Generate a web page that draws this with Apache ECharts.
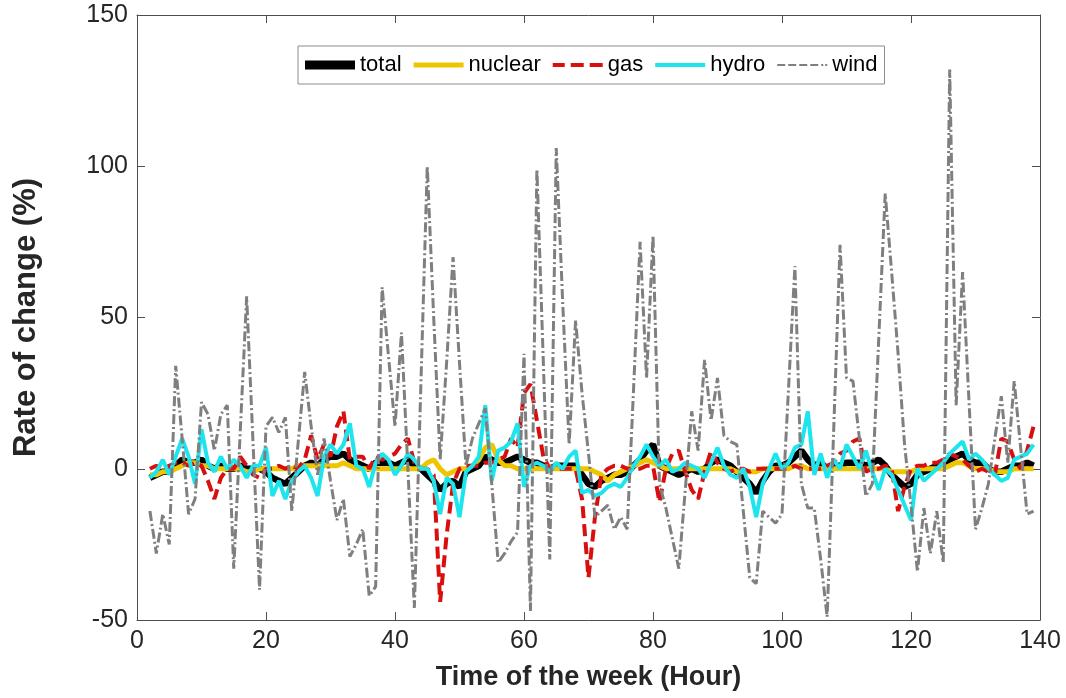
<!DOCTYPE html>
<html>
<head>
<meta charset="utf-8">
<script src="https://cdn.jsdelivr.net/npm/echarts@6/dist/echarts.min.js"></script>
<style>
html,body{margin:0;padding:0;background:#fff;}
#chart{width:1066px;height:698px;}
</style>
</head>
<body>
<div id="chart"></div>
<script>
var hours = [
 2,3,4,5,6,7,8,9,10,11,
 12,13,14,15,16,17,18,19,20,21,
 22,23,24,25,26,27,28,29,30,31,
 32,33,34,35,36,37,38,39,40,41,
 42,43,44,45,46,47,48,49,50,51,
 52,53,54,55,56,57,58,59,60,61,
 62,63,64,65,66,67,68,69,70,71,
 72,73,74,75,76,77,78,79,80,81,
 82,83,84,85,86,87,88,89,90,91,
 92,93,94,95,96,97,98,99,100,101,
 102,103,104,105,106,107,108,109,110,111,
 112,113,114,115,116,117,118,119,120,121,
 122,123,124,125,126,127,128,129,130,131,
 132,133,134,135,136,137,138,139
];
var total = [
 -3,-2,-1,-1,1,3,2,2,3,1,
 0,1,0,0,1,0,0,0,-1,-3,
 -4,-5,-3,-1,1,2,1,3,4,4,
 5,3,2,1,0,2,2,2,1,2,
 3,1,0,-2,-4,-7,-5,-4,-6,-1,
 0,1,4,3,2,2,3,4,3,2,
 2,1,0,1,1,1,1,-2,-5,-6,
 -4,-3,-2,-2,-1,1,3,6,8,1,
 0,-1,-2,-1,0,-1,0,2,3,2,
 1,-1,-3,-5,-8,-4,-1,1,1,2,
 4,6,3,1,2,0,1,1,2,2,
 2,1,2,3,1,-2,-4,-6,-5,-2,
 -1,0,1,2,3,4,5,3,2,2,
 0,-1,-1,0,1,1,2,1
];
var nuclear = [
 -2,-2,-1,-1,0,1,2,2,1,1,
 0,0,0,0,0,-1,-1,0,0,0,
 0,0,0,1,1,1,1,1,1,1,
 2,1,0,0,0,0,0,0,0,0,
 0,0,0,2,3,0,-2,-1,0,0,
 1,3,7,8,3,1,1,0,0,0,
 0,0,0,0,0,0,0,0,0,-1,
 -2,-4,-2,-1,0,1,2,3,2,1,
 0,0,0,0,0,0,0,0,0,0,
 0,-1,-1,-1,-1,0,0,0,0,0,
 1,1,0,0,0,0,0,0,0,0,
 0,0,0,0,0,-1,-1,-1,-1,0,
 0,0,0,0,1,2,2,1,0,0,
 0,-1,-1,-1,0,0,0,0
];
var gas = [
 0,1,0,1,2,2,1,2,1,-4,
 -10,-3,0,0,4,1,-2,-3,0,0,
 1,0,1,0,3,11,3,8,4,14,
 19,3,4,4,0,4,3,4,5,8,
 10,2,0,0,-2,-44,-22,-5,0,1,
 1,1,2,2,3,4,10,7,25,28,
 16,4,0,0,0,0,0,-10,-36,-16,
 -2,0,1,1,0,0,0,1,1,-11,
 0,5,6,-1,-7,-10,-1,6,2,0,
 -1,0,0,-1,0,0,0,0,0,0,
 1,0,0,0,0,1,2,5,6,9,
 10,-1,0,0,1,0,-14,-6,0,1,
 1,2,2,3,5,4,3,1,-1,0,
 -1,-2,10,9,3,0,6,14
];
var hydro = [
 -3,-1,3,-2,4,10,4,-5,13,2,
 -1,4,0,3,1,-3,1,1,7,-9,
 -4,-10,-4,-1,1,-3,-9,4,8,5,
 8,15,1,0,-6,2,5,3,-2,1,
 5,3,0,0,-4,-15,-3,-5,-16,-1,
 1,4,21,-4,6,7,9,15,-6,1,
 2,1,-1,2,0,4,6,-8,-7,-9,
 -8,-6,-5,-6,-3,1,4,8,4,1,
 3,-1,0,2,1,0,-3,2,7,1,
 -2,-3,0,-6,-16,-5,0,5,0,2,
 7,8,19,-2,5,-3,3,0,8,4,
 0,6,-1,-7,0,-2,-7,-12,-17,0,
 -4,-2,0,2,5,7,9,3,5,3,
 0,-2,-4,-3,3,4,5,8
];
var wind = [
 -14,-28,-15,-25,34,10,-15,-10,22,18,
 6,18,21,-33,12,57,8,-40,14,17,
 12,17,-14,9,32,14,-2,10,-4,-17,
 -10,-29,-25,-20,-42,-39,60,37,14,45,
 0,-46,27,100,50,3,35,70,35,1,
 10,15,20,-5,-31,-28,-24,-21,38,-47,
 99,35,-30,106,55,8,49,25,5,-16,
 -14,-12,-20,-16,-20,27,75,30,77,-5,
 -13,-23,-33,-7,19,6,36,16,30,11,
 9,8,-14,-36,-38,-14,-16,-18,-15,26,
 67,-5,-13,-13,-30,-49,12,74,30,29,
 10,-9,-5,43,91,65,38,8,-12,-34,
 -13,-28,-14,-31,132,21,65,22,-20,-13,
 -5,10,24,2,29,7,-15,-14
];
var xTicks = [0,20,40,60,80,100,120,140];
var yTicks = [-50,0,50,100,150];
var seriesNames = ['total','nuclear','gas','hydro','wind'];

function pairs(vals){ return hours.map(function(h,i){ return [h, vals[i]]; }); }

var FONT = "'Liberation Sans', Arial, Helvetica, sans-serif";
var AX = '#4d4d4d';
var TXT = '#262626';

// legend sample glyphs (50 x 14 box)
var BOX = 'M0,0 M50,14 ';
var legendIcons = {
  total:   BOX + 'M0,2.5h50v9h-50z',
  nuclear: BOX + 'M0,4.5h50v5h-50z',
  gas:     BOX + 'M0,5h12v4h-12z M18,5h13v4h-13z M37,5h13v4h-13z',
  hydro:   BOX + 'M0,5h50v4h-50z',
  wind:    BOX + 'M0,6h8v2h-8z M11,6h8v2h-8z M22,6h8v2h-8z M33,6h8v2h-8z M44,6h2v2h-2z M48,6h2v2h-2z'
};

var chart = echarts.init(document.getElementById('chart'), null, {renderer:'canvas'});
chart.setOption({
  animation:false,
  backgroundColor:'#ffffff',
  textStyle:{fontFamily:FONT},
  grid:{left:137, right:26, top:15, bottom:78, containLabel:false},
  legend:{
    left:298, top:46,
    orient:'horizontal',
    itemWidth:50, itemHeight:14, itemGap:12,
    padding:[8,7,8,7],
    borderColor:'#8c8c8c', borderWidth:1,
    backgroundColor:'#ffffff',
    textStyle:{fontSize:22, color:'#000', fontFamily:FONT},
    data: seriesNames.map(function(n){ return {name:n, icon:'path://' + legendIcons[n]}; })
  },
  xAxis:[{
    type:'value', min:xTicks[0], max:xTicks[xTicks.length-1], interval:20,
    name:'Time of the week (Hour)', nameLocation:'middle', nameGap:44,
    nameTextStyle:{fontSize:27, fontWeight:'bold', color:TXT, fontFamily:FONT},
    axisLine:{show:true, onZero:false, lineStyle:{color:AX, width:1}},
    axisTick:{show:true, inside:true, length:8, lineStyle:{color:AX}},
    axisLabel:{fontSize:25, color:TXT, margin:9, fontFamily:FONT},
    splitLine:{show:false}
  },{
    type:'value', position:'top', min:0, max:140, interval:20,
    axisLine:{show:true, onZero:false, lineStyle:{color:AX, width:1}},
    axisTick:{show:true, inside:true, length:8, lineStyle:{color:AX}},
    axisLabel:{show:false}, splitLine:{show:false}
  }],
  yAxis:[{
    type:'value', min:yTicks[0], max:yTicks[yTicks.length-1], interval:50,
    name:'Rate of change (%)', nameLocation:'middle', nameGap:95, nameRotate:90,
    nameTextStyle:{fontSize:31, fontWeight:'bold', color:TXT, fontFamily:FONT},
    axisLine:{show:true, onZero:false, lineStyle:{color:AX, width:1}},
    axisTick:{show:true, inside:true, length:8, lineStyle:{color:AX}},
    axisLabel:{fontSize:25, color:TXT, margin:9, fontFamily:FONT},
    splitLine:{show:false}
  },{
    type:'value', position:'right', min:-50, max:150, interval:50,
    axisLine:{show:true, onZero:false, lineStyle:{color:AX, width:1}},
    axisTick:{show:true, inside:true, length:8, lineStyle:{color:AX}},
    axisLabel:{show:false}, splitLine:{show:false}
  }],
  series:[
    {name:'total', type:'line', data:pairs(total), showSymbol:false, symbol:'none',
     lineStyle:{color:'#000000', width:6.5}, itemStyle:{color:'#000000'}, z:2},
    {name:'nuclear', type:'line', data:pairs(nuclear), showSymbol:false, symbol:'none',
     lineStyle:{color:'#EDC500', width:5}, itemStyle:{color:'#EDC500'}, z:3},
    {name:'gas', type:'line', data:pairs(gas), showSymbol:false, symbol:'none',
     lineStyle:{color:'#D90F0F', width:4, type:[12,6]}, itemStyle:{color:'#D90F0F'}, z:4},
    {name:'hydro', type:'line', data:pairs(hydro), showSymbol:false, symbol:'none',
     lineStyle:{color:'#1DE5EE', width:4}, itemStyle:{color:'#1DE5EE'}, z:5},
    {name:'wind', type:'line', data:pairs(wind), showSymbol:false, symbol:'none',
     lineStyle:{color:'#7f7f7f', width:3, type:[10,3,2,3]}, itemStyle:{color:'#7f7f7f'}, z:6}
  ]
});
</script>
</body>
</html>
